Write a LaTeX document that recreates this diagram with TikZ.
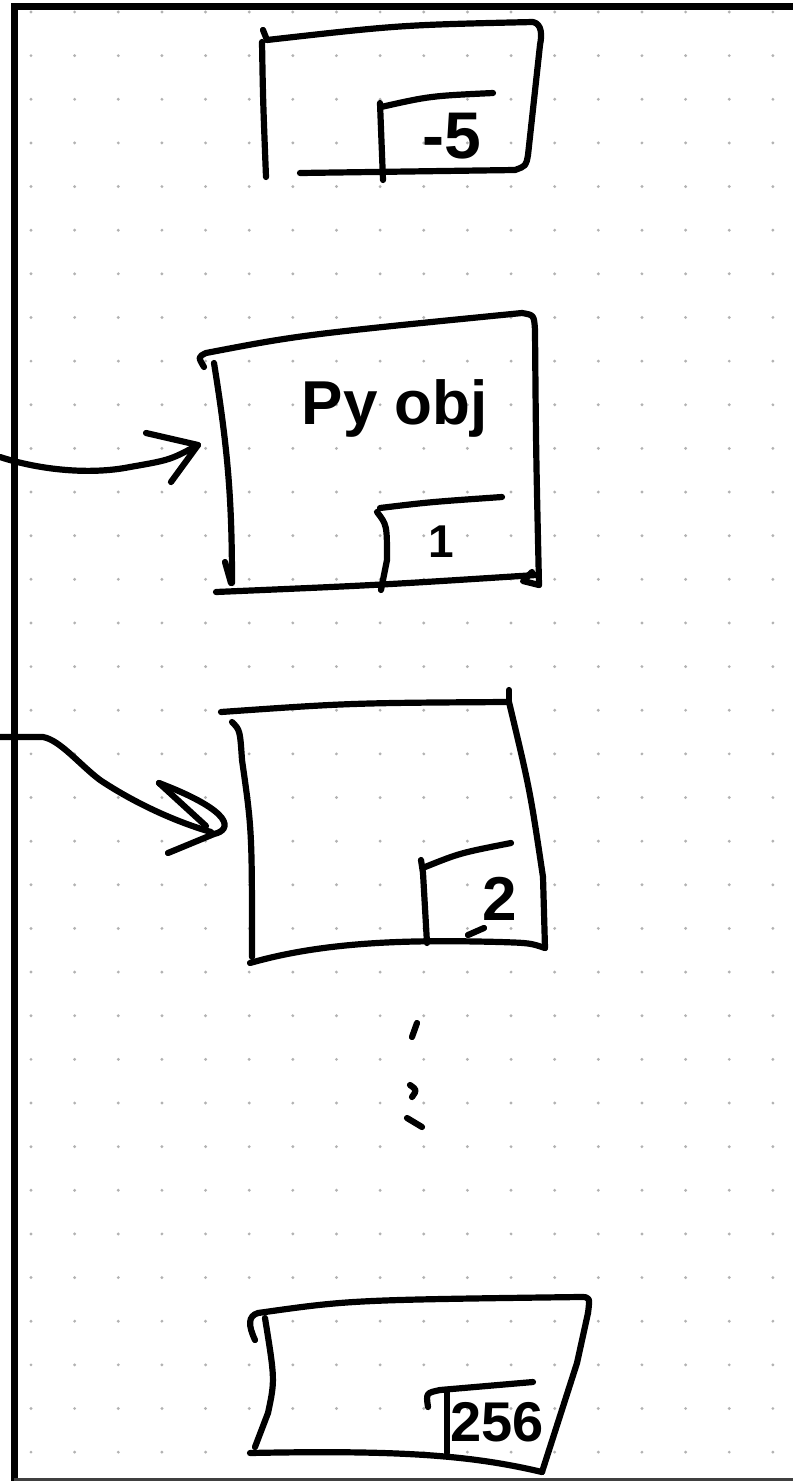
\documentclass[tikz,border=0pt]{standalone}
\usepackage{fontspec}
\setmainfont{Liberation Sans}
\begin{document}
\begin{tikzpicture}[x=1pt,y=-1pt,
  ink/.style={line width=6.2pt, line cap=round, line join=round},
  lbl/.style={inner sep=0pt, font=\fontsize{#1}{#1}\selectfont\bfseries},
  griddot/.style={fill=gray!60}]
\useasboundingbox (0,0) rectangle (793,1481);
\fill[white] (0,0) rectangle (793,1481);
% dotted grid
\foreach \i in {0,...,17} \foreach \j in {0,...,33}
  \fill[griddot] ({31+43.64*\i},{12+43.64*\j}) circle[radius=1.6pt];
% frame
\draw[line width=7pt] (11,6) -- (793,6);
\draw[line width=7pt] (14,3) -- (14,1481);
\draw[line width=2.5pt, black!75] (14,1479.5) -- (793,1479.5);

% ---------- top box (-5)
\draw[ink] (263,30) -- (267,40);
\draw[ink] (262,42) .. controls (263,100) .. (266,177);
\draw[ink] (267,40) .. controls (400,25) .. (533,22) .. controls (542,24) and (542,35) .. (540,45)
  -- (528,155) .. controls (526,166) .. (515,170) -- (300,173);
\draw[ink] (380,103) -- (383,180);
\draw[ink] (381,107) .. controls (430,96) .. (493,93);
\node[lbl=66] (tneg) at (452,136) {-5};

% ---------- PyObj box (1)
\draw[ink] (204,367) .. controls (198,357) .. (206,353) .. controls (300,335) .. (522,313)
  .. controls (534,315) .. (535,330) .. controls (536,450) .. (539,585);
\draw[ink] (539,585) -- (523,581) -- (532,572);
\draw[ink] (216,592) .. controls (380,585) .. (536,575);
\draw[ink] (214,363) .. controls (228,450) and (232,500) .. (232,583);
\draw[ink] (225,562) -- (231,583);
\draw[ink] (377,512) .. controls (387,525) .. (387,560) -- (381,590);
\draw[ink] (380,508) .. controls (430,502) .. (502,497);
\node[lbl=62] (pyobj) at (395,408) {Py obj};
\node[lbl=46] (tone) at (441,542) {1};

% arrow 1
\coordinate (a1s) at (0,457);
\coordinate (a1t) at (198,445);
\draw[ink] (a1s) .. controls (40,470) and (90,475) .. (130,467) .. controls (170,460) .. (a1t);
\draw[ink] (146,433) -- (a1t) -- (171,482);

% ---------- box 2
\draw[ink] (221,712) .. controls (350,703) .. (507,702);
\draw[ink] (509,690) -- (509,702);
\draw[ink] (509,702) .. controls (530,790) .. (543,877) -- (545,948);
\draw[ink] (250,963) .. controls (330,940) and (420,940) .. (500,942) .. controls (530,943) .. (545,948);
\draw[ink] (232,722) .. controls (240,730) .. (242,760) .. controls (252,830) .. (252,957);
\draw[ink] (421,860) -- (423,873) -- (427,943);
\draw[ink] (425,867) .. controls (460,853) .. (511,843);
\node[lbl=62] (ttwo) at (500,899) {2};
\draw[ink] (468,935) -- (484,928);

% arrow 2
\coordinate (a2s) at (0,737);
\coordinate (a2t) at (211,832);
\coordinate (a2b) at (159,783);
\draw[ink] (a2s) -- (43,737) .. controls (60,740) and (80,765) .. (100,780)
  .. controls (130,800) and (170,820) .. (a2t);
\draw[ink] (a2b) -- (206,826);
\draw[ink] (a2b) .. controls (235,812) and (232,830) .. (214,834) -- (168,853);

% ---------- dots
\draw[ink] (417,1023) -- (412,1037);
\draw[ink] (410,1085) .. controls (417,1090) .. (412,1097);
\draw[ink] (407,1118) -- (422,1127);

% ---------- bottom box (256)
\draw[ink] (255,1340) .. controls (248,1325) and (248,1316) .. (258,1313)
  .. controls (350,1300) .. (580,1297) .. controls (590,1297) .. (588,1313);
\draw[ink] (588,1313) -- (577,1363) -- (542,1472);
\draw[ink] (265,1318) .. controls (275,1380) .. (268,1413) -- (255,1447);
\draw[ink] (250,1453) .. controls (400,1450) and (470,1455) .. (542,1472);
\draw[ink] (447,1390) -- (447,1453);
\draw[ink] (428,1407) .. controls (426,1393) .. (440,1390) -- (533,1382);
\node[lbl=56] (tbig) at (497,1422) {256};
\end{tikzpicture}
\end{document}
